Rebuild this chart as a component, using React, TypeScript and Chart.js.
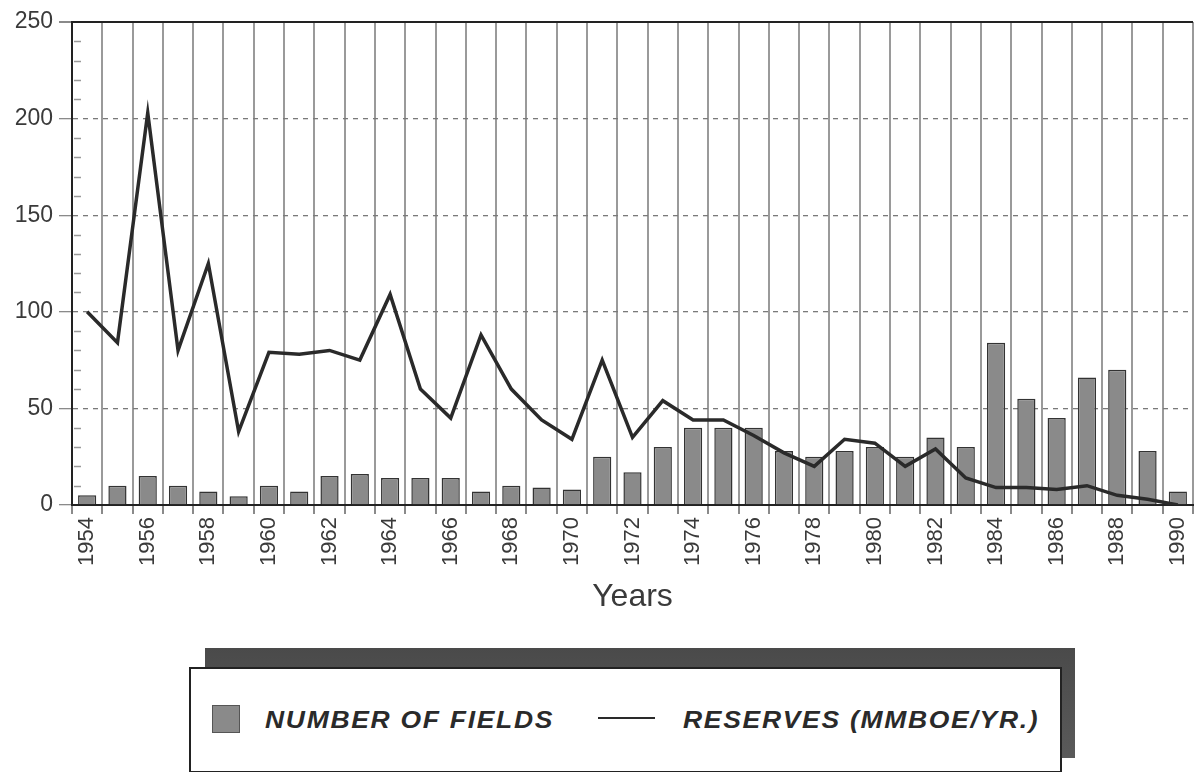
import React, { useEffect, useRef } from "react";
import { Chart, registerables } from "chart.js";

Chart.register(...registerables);

const years = [
  1954, 1955, 1956, 1957, 1958, 1959, 1960, 1961, 1962, 1963,
  1964, 1965, 1966, 1967, 1968, 1969, 1970, 1971, 1972, 1973,
  1974, 1975, 1976, 1977, 1978, 1979, 1980, 1981, 1982, 1983,
  1984, 1985, 1986, 1987, 1988, 1989, 1990,
];

const numberOfFields = [
  5, 10, 15, 10, 7, 4.5, 10, 7, 15, 16,
  14, 14, 14, 7, 10, 9, 8, 25, 17, 30,
  40, 40, 40, 28, 25, 28, 30, 25, 35, 30,
  84, 55, 45, 66, 70, 28, 7,
];

const reserves = [
  100, 84, 203, 80, 125, 38, 79, 78, 80, 75,
  109, 60, 45, 88, 60, 44, 34, 75, 35, 54,
  44, 44, 36, 27, 20, 34, 32, 20, 29, 14,
  9, 9, 8, 10, 5, 3, 0,
];

const yMin = 0;
const yMax = 250;
const yStep = 50;
const minorStep = 10;

const seriesLabels = ["NUMBER OF FIELDS", "RESERVES (MMBOE/YR.)"];
const axisTitle = "Years";

const FONT = "'Liberation Sans', Arial, Helvetica, sans-serif";

export default function App() {
  const ref = useRef<HTMLCanvasElement>(null);

  useEffect(() => {
    if (!ref.current) return;

    const minorTicks = {
      id: "minorTicks",
      afterDraw(chart: any) {
        const { ctx, chartArea, scales } = chart;
        const y = scales.y;
        ctx.save();
        ctx.strokeStyle = "#9a9a9a";
        ctx.lineWidth = 1.5;
        for (let v = yMin + minorStep; v < yMax; v += minorStep) {
          if (v % yStep === 0) continue;
          const py = Math.round(y.getPixelForValue(v)) + 0.5;
          ctx.beginPath();
          ctx.moveTo(chartArea.left + 2, py);
          ctx.lineTo(chartArea.left + 9, py);
          ctx.stroke();
        }
        ctx.restore();
      },
    };

    const chart = new Chart(ref.current, {
      type: "bar",
      data: {
        labels: years.map(String),
        datasets: [
          {
            type: "line",
            label: seriesLabels[1],
            data: reserves,
            borderColor: "#2a2a2a",
            borderWidth: 3.5,
            pointRadius: 0,
            tension: 0,
            fill: false,
            order: 0,
          } as any,
          {
            type: "bar",
            label: seriesLabels[0],
            data: numberOfFields,
            backgroundColor: "#8a8a8a",
            borderColor: "#333333",
            borderWidth: 1.5,
            barPercentage: 0.6,
            categoryPercentage: 1,
            order: 1,
          },
        ],
      },
      plugins: [minorTicks],
      options: {
        responsive: false,
        animation: false,
        layout: { padding: { top: 22, right: 1, left: 0, bottom: 0 } },
        plugins: {
          legend: { display: false },
          tooltip: { enabled: false },
        },
        scales: {
          x: {
            offset: true,
            grid: {
              offset: true,
              color: "#9a9a9a",
              lineWidth: 2,
              drawTicks: true,
              tickLength: 9,
              tickColor: "#8a8a8a",
            },
            border: { display: true, color: "#222", width: 2 },
            ticks: {
              autoSkip: false,
              minRotation: 90,
              maxRotation: 90,
              padding: 3,
              color: "#3a3a3a",
              font: { family: FONT, size: 22 },
              callback: (_v: any, i: number) => (years[i] % 2 === 0 ? String(years[i]) : ""),
            },
            title: {
              display: true,
              text: axisTitle,
              color: "#3a3a3a",
              font: { family: FONT, size: 32 },
              padding: { top: 0, bottom: 4 },
            },
            afterFit: (s: any) => {
              s.height = 115;
              s.paddingRight = 0;
              s.paddingLeft = 0;
            },
          },
          y: {
            min: yMin,
            max: yMax,
            ticks: {
              stepSize: yStep,
              padding: 6,
              color: "#3a3a3a",
              font: { family: FONT, size: 23 },
            },
            grid: {
              color: (c: any) => (c.tick && c.tick.value === yMax ? "#222" : "#7a7a7a"),
              lineWidth: (c: any) => (c.tick && c.tick.value === yMax ? 2 : 1.3),
              tickLength: 13,
              tickColor: "#8a8a8a",
              tickBorderDash: [],
            },
            border: {
              display: true,
              color: "#222",
              width: 2,
              dash: (c: any) =>
                c.tick && (c.tick.value === yMax || c.tick.value === yMin) ? [] : [5, 5],
            } as any,
            afterFit: (s: any) => {
              s.width = 72;
            },
          },
        },
      },
    });

    return () => chart.destroy();
  }, []);

  const legendText: React.CSSProperties = {
    position: "absolute",
    top: 706,
    fontFamily: FONT,
    fontWeight: 700,
    fontStyle: "italic",
    fontSize: 23,
    letterSpacing: 1.5,
    color: "#2a2a2a",
    whiteSpace: "nowrap",
    lineHeight: "28px",
    transform: "scaleX(1.15)",
    transformOrigin: "left center",
  };

  return (
    <div
      style={{
        position: "absolute",
        left: 0,
        top: 0,
        width: 1194,
        height: 772,
        background: "#fff",
        overflow: "hidden",
      }}
    >
      <canvas ref={ref} width={1194} height={620} style={{ position: "absolute", left: 0, top: 0 }} />
      <div
        style={{
          position: "absolute",
          left: 205,
          top: 648,
          width: 870,
          height: 110,
          background: "linear-gradient(180deg, #4a4a4a, #5a5a5a)",
        }}
      />
      <div
        style={{
          position: "absolute",
          left: 189,
          top: 667,
          width: 869,
          height: 102,
          background: "#fff",
          border: "2px solid #222",
        }}
      />
      <div
        style={{
          position: "absolute",
          left: 212,
          top: 705,
          width: 26,
          height: 26,
          background: "#8a8a8a",
          border: "1.5px solid #555",
        }}
      />
      <div style={{ ...legendText, left: 265 }}>{seriesLabels[0]}</div>
      <div
        style={{
          position: "absolute",
          left: 598,
          top: 717,
          width: 57,
          height: 2,
          background: "#2a2a2a",
        }}
      />
      <div style={{ ...legendText, left: 683 }}>{seriesLabels[1]}</div>
    </div>
  );
}
